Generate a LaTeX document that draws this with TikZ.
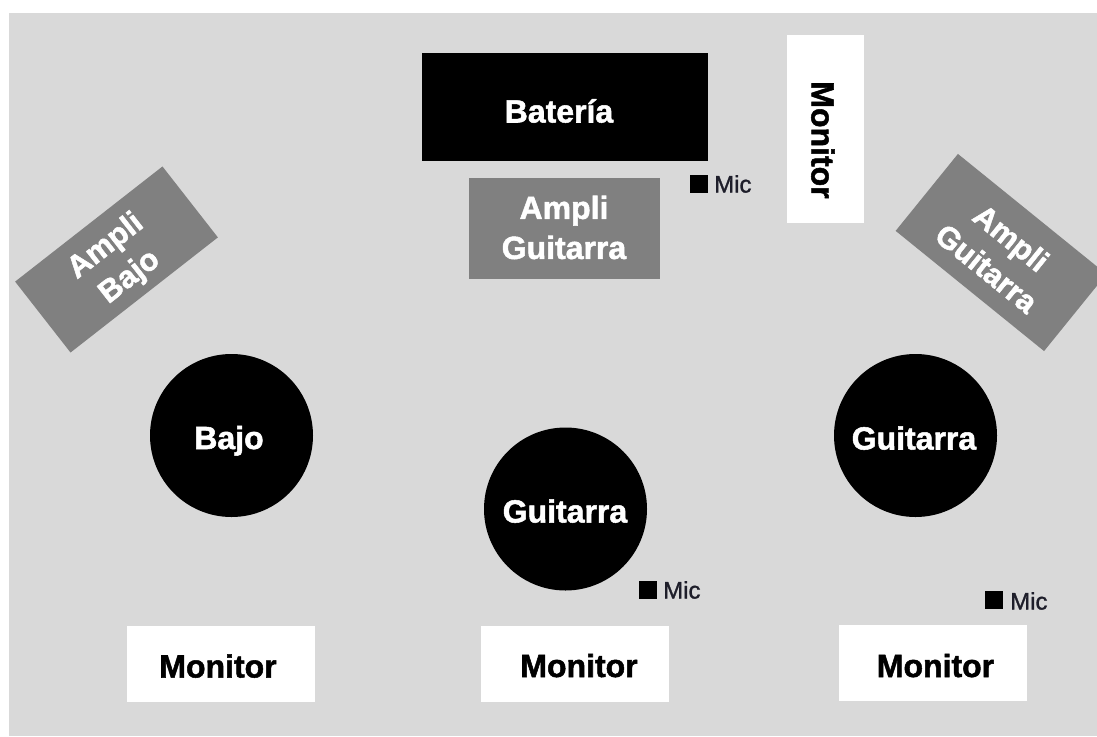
\documentclass[tikz,border=0pt]{standalone}
\usepackage{fontspec}
\setmainfont{Liberation Sans}
\newfontfamily\lblfont[FakeBold=1.6]{Liberation Sans Bold}
\newfontfamily\micfont[FakeBold=1.2]{Liberation Sans}
\definecolor{bggray}{HTML}{D9D9D9}
\definecolor{ampgray}{HTML}{808080}
\definecolor{mictext}{HTML}{1E1E2A}
\begin{document}
\begin{tikzpicture}[x=1pt,y=-1pt,
  shapebox/.style={inner sep=0pt,draw=none},
  txt/.style={inner sep=0pt,align=center,font=\lblfont\fontsize{32}{40}\selectfont},
  one/.style={txt,text height=23pt,text depth=0pt},
  drum/.style={shapebox,fill=black,minimum width=286pt,minimum height=108pt},
  amp/.style={shapebox,fill=ampgray},
  player/.style={shapebox,circle,fill=black,minimum size=163pt},
  monitorbox/.style={shapebox,fill=white,minimum width=188pt,minimum height=76pt},
  micsq/.style={fill=black,inner sep=0pt,minimum size=18pt},
  miclbl/.style={inner sep=0pt,anchor=west,text=mictext,font=\micfont\fontsize{24}{28}\selectfont}]
\useasboundingbox (0,0) rectangle (1097,736);
\fill[white] (0,0) rectangle (1097,736);
\fill[bggray] (9,13) rectangle (1097,736);

% drums
\node[drum] (bateria) at (565,107) {};
\node[one,text=white] (bateriat) at (559,111) {Batería};

% amps
\node[amp,minimum width=191pt,minimum height=101pt] (ampg1) at (564.5,228.5) {};
\node[txt,text=white] (ampg1t) at (564,227.5) {Ampli\\Guitarra};
\node[amp,minimum width=187pt,minimum height=90pt,rotate=38] (ampb) at (116.5,259.5) {};
\node[txt,text=white,rotate=38,font=\lblfont\fontsize{31}{39}\selectfont] (ampbt) at (118,262) {Ampli\\Bajo};
\node[amp,minimum width=191pt,minimum height=99pt,rotate=-39] (ampg2) at (1001,252.5) {};
\node[txt,text=white,rotate=-39,font=\lblfont\fontsize{31}{39}\selectfont] (ampg2t) at (999,253) {Ampli\\Guitarra};

% side-fill monitor
\node[shapebox,fill=white,minimum width=77pt,minimum height=188pt] (montop) at (825.5,129) {};
\node[one,text=black,rotate=-90] (montopt) at (823,140) {Monitor};

% mics
\node[micsq] (mic1sq) at (698.5,183.5) {};
\node[miclbl] (mic1) at (714,184) {Mic};

% players
\node[player] (bajo) at (231.5,435.5) {};
\node[one,text=white] (bajot) at (229,437.5) {Bajo};
\node[player] (guit1) at (565.5,509) {};
\node[one,text=white] (guit1t) at (565,511) {Guitarra};
\node[player] (guit2) at (915.5,435.5) {};
\node[one,text=white] (guit2t) at (914,438) {Guitarra};

\node[micsq] (mic2sq) at (647.5,589.5) {};
\node[miclbl] (mic2) at (663,590) {Mic};
\node[micsq] (mic3sq) at (994,600) {};
\node[miclbl] (mic3) at (1010,601) {Mic};

% wedge monitors
\node[monitorbox] (mon1) at (221,664) {};
\node[one,text=black] (mon1t) at (218,666) {Monitor};
\node[monitorbox] (mon2) at (575,664) {};
\node[one,text=black] (mon2t) at (579,665.5) {Monitor};
\node[monitorbox] (mon3) at (932.5,662.5) {};
\node[one,text=black] (mon3t) at (935.5,665.5) {Monitor};
\end{tikzpicture}
\end{document}
